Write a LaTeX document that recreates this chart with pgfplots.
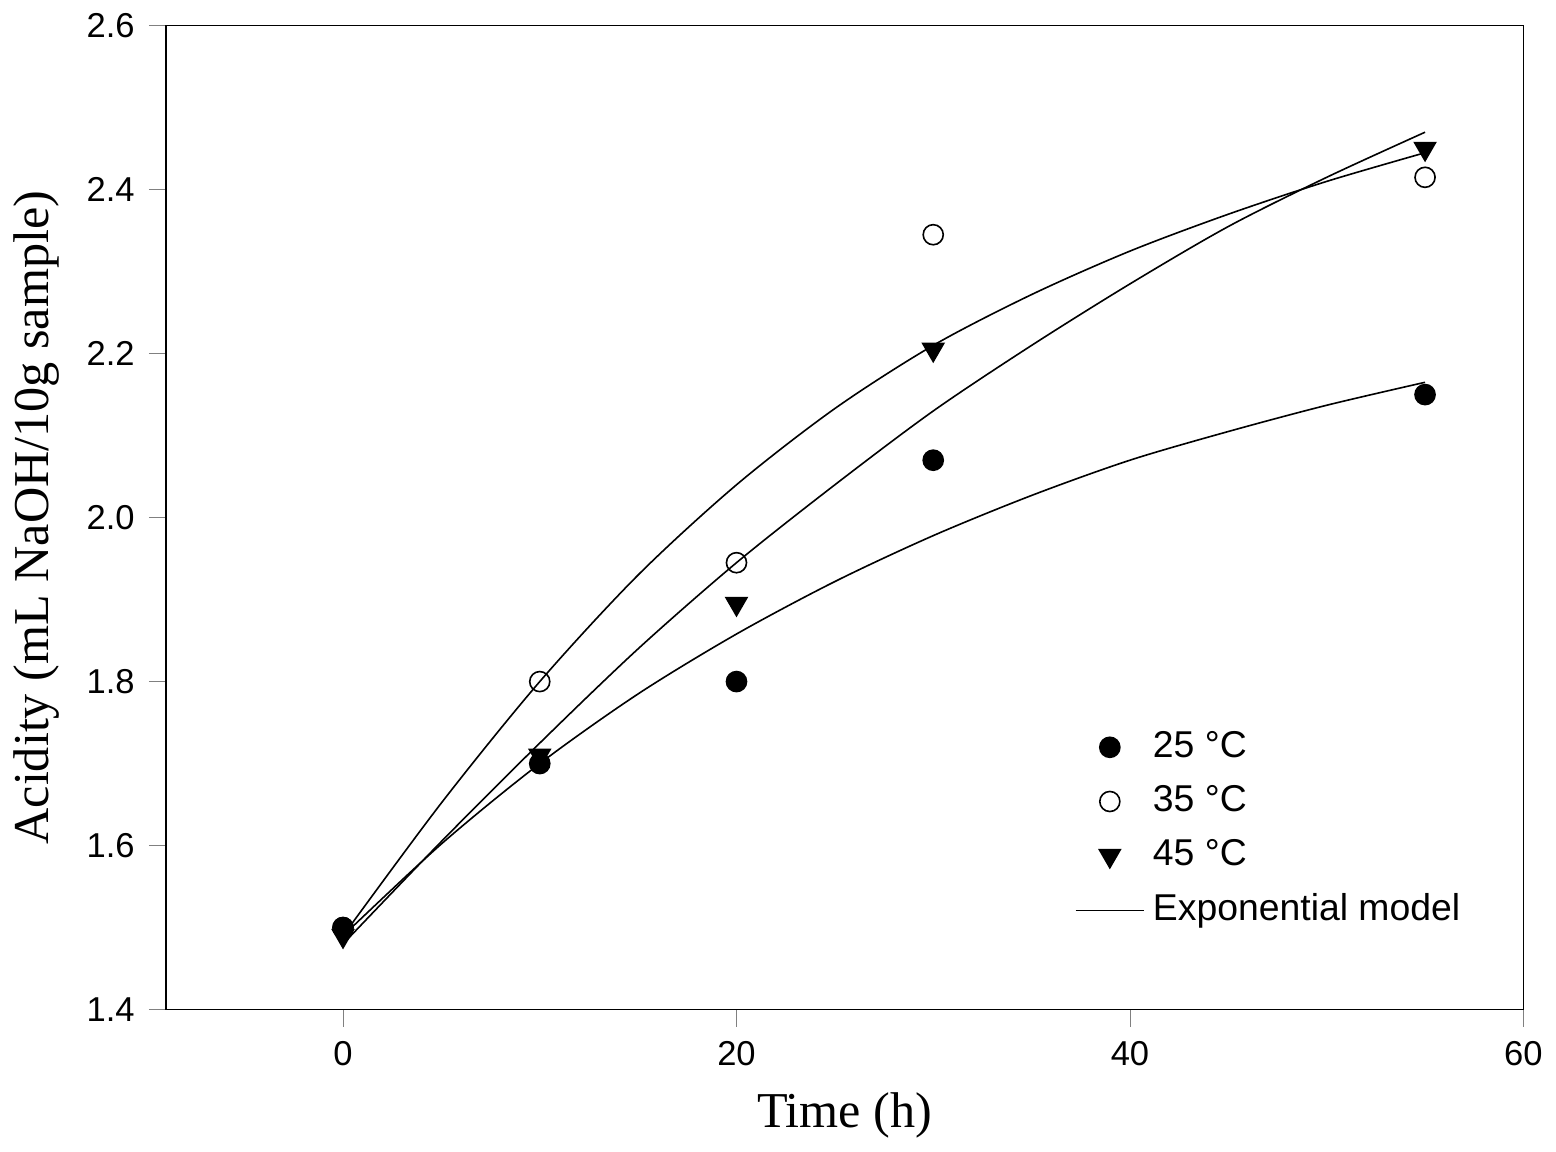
\documentclass[border=0pt]{standalone}
\usepackage{pgfplots}
\pgfplotsset{compat=1.18}
\usepackage{fontspec}
\setmainfont{Liberation Sans}
\newfontfamily\seriffont{Liberation Serif}
\begin{document}
\begin{tikzpicture}
\begin{axis}[
  width=338pt, height=245pt, scale only axis,
  xmin=-9, xmax=60, ymin=1.4, ymax=2.6,
  xtick={0,20,40,60}, ytick={1.4,1.6,...,2.6},
  yticklabel style={/pgf/number format/fixed,/pgf/number format/fixed zerofill,/pgf/number format/precision=1},
  /pgf/number format/assume math mode=true,
  tick label style={font=\fontsize{8.6}{10}\selectfont},
  tick align=outside, tick pos=left,
  xlabel={\seriffont\fontsize{12.5}{14}\selectfont Time (h)},
  ylabel={\seriffont\fontsize{12.5}{14}\selectfont Acidity (mL NaOH/10g sample)},
  legend style={draw=none, fill=none, at={(0.66,0.3)}, anchor=north west, font=\fontsize{9.3}{11}\selectfont, row sep=1.5pt},
  legend cell align=left,
]
\addplot[only marks, mark=*, mark size=2.5pt, black] coordinates {(0,1.5)(10,1.7)(20,1.8)(30,2.07)(55,2.15)};
\addlegendentry{25 °C}
\addplot[only marks, mark=o, mark size=2.5pt, black, fill=white] coordinates {(0,1.5)(10,1.8)(20,1.945)(30,2.345)(55,2.415)};
\addlegendentry{35 °C}
\addplot[only marks, mark=triangle*, mark options={rotate=180}, mark size=3pt, black] coordinates {(0,1.49)(10,1.71)(20,1.895)(30,2.205)(55,2.45)};
\addlegendentry{45 °C}
\addplot[black, thin, smooth, no marks] coordinates {(0,1.49)(5,1.652)(10,1.80)(15,1.93)(20,2.04)(25,2.133)(30,2.21)(35,2.272)(40,2.325)(45,2.37)(50,2.41)(55,2.445)};
\addlegendentry{Exponential model}
\addplot[black, thin, smooth, no marks, forget plot] coordinates {(0,1.48)(5,1.605)(10,1.725)(15,1.84)(20,1.945)(25,2.04)(30,2.13)(35,2.21)(40,2.285)(45,2.355)(50,2.415)(55,2.47)};
\addplot[black, thin, smooth, no marks, forget plot] coordinates {(0,1.49)(5,1.602)(10,1.70)(15,1.785)(20,1.858)(25,1.922)(30,1.978)(35,2.027)(40,2.07)(45,2.105)(50,2.137)(55,2.165)};
\end{axis}
\end{tikzpicture}
\end{document}
